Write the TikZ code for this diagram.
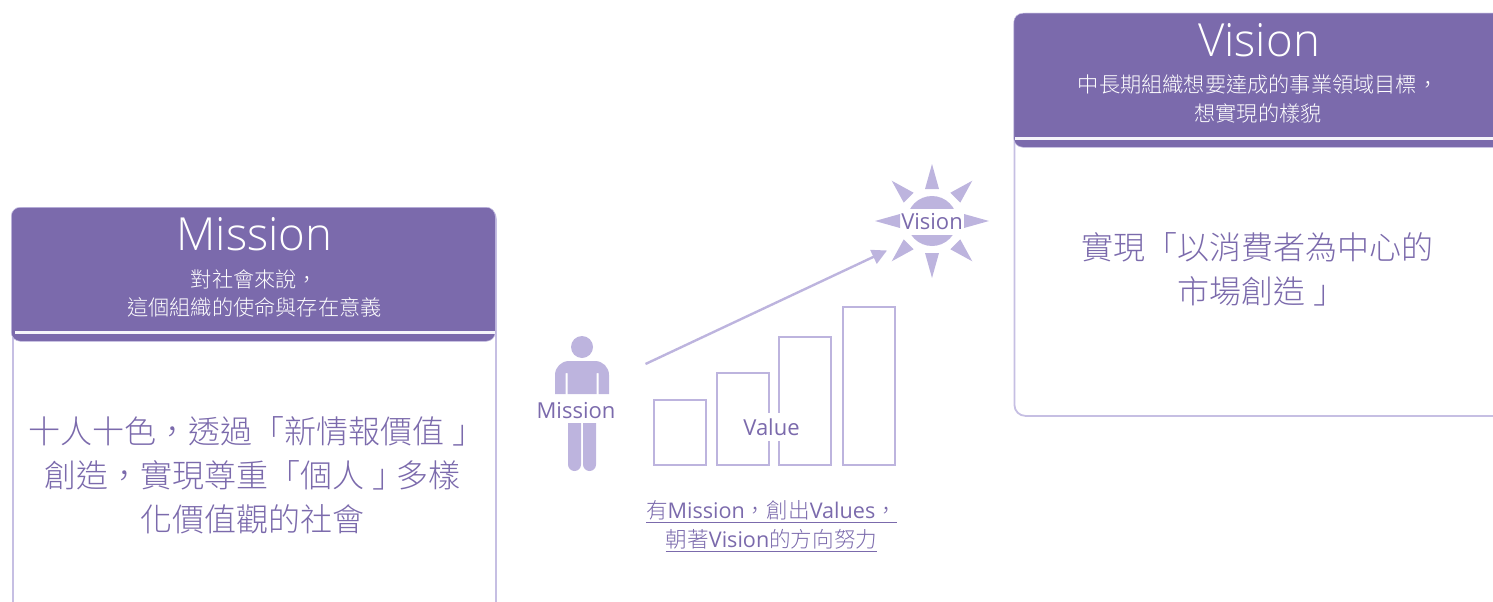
\documentclass[tikz,border=0pt]{standalone}
\usepackage{fontspec}
\usetikzlibrary{arrows.meta}
\newfontfamily\cjkf[Language=Chinese Traditional,Script=CJK]{Noto Sans CJK TC Light}
\newfontfamily\latf{Open Sans Light}
\newfontfamily\tagf{Open Sans}
\newcommand{\la}[1]{{\tagf #1}}
\newcommand{\rbk}{\kern.25em」\kern-.25em}
\definecolor{hdr}{HTML}{7B6AAC}
\definecolor{lite}{HTML}{BDB4DE}
\definecolor{edge}{HTML}{C6BFE3}
\tikzset{
  panel/.style={draw=edge,line width=1.8pt,fill=white,rounded corners=11pt,anchor=north west,inner sep=0pt},
  header/.style={fill=hdr,draw=edge,line width=.5pt,rounded corners=9pt,anchor=north west,inner sep=0pt},
  rule/.style={draw=white!85!lite,line width=2.2pt},
  title/.style={text=white,font=\latf\fontsize{45.6}{50}\selectfont,inner sep=0pt},
  sub/.style={text=white,align=center,inner sep=0pt,font=\cjkf\fontsize{21.2}{28.8}\selectfont},
  body/.style={text=hdr,align=center,inner sep=0pt,font=\cjkf\fontsize{32}{44}\selectfont},
  tag/.style={text=hdr,fill=white,inner sep=0pt,font=\tagf\fontsize{22}{25}\selectfont},
  figure/.style={fill=lite,draw=none},
  bar/.style={draw=lite,line width=2pt,fill=white,anchor=south west,inner sep=0pt},
  ray/.style={fill=lite,draw=none}
}
\begin{document}
\begin{tikzpicture}[x=1pt,y=-1pt]
\useasboundingbox (0,0) rectangle (1493,602);
\clip (0,0) rectangle (1493,602);
% Mission panel
\node[panel,minimum width=483pt,minimum height=460pt] (mbody) at (12,207) {};
\node[header,minimum width=484pt,minimum height=134pt] (mhead) at (11,207) {};
\coordinate (mr1) at (15,332.5);
\coordinate (mr2) at (495,332.5);
\draw[rule] (mr1) -- (mr2);
\node[title] (mtitle) at (254.5,234) {Mission};
\node[sub] (msub) at (254.5,293.5) {對社會來說，\\這個組織的使命與存在意義};
\node[body] (mtext) at (252,475) {十人十色，透過「新情報價值\rbk\\創造，實現尊重「個人\rbk 多樣\\化價值觀的社會};
% Vision panel
\node[panel,minimum width=490pt,minimum height=402pt] (vbody) at (1013.5,13) {};
\node[header,minimum width=490pt,minimum height=134pt] (vhead) at (1013.5,13) {};
\coordinate (vr1) at (1015,138.5);
\coordinate (vr2) at (1493,138.5);
\draw[rule] (vr1) -- (vr2);
\node[title] (vtitle) at (1259,40) {Vision};
\node[sub] (vsub) at (1258,99) {中長期組織想要達成的事業領域目標，\\想實現的樣貌};
\node[body] (vtext) at (1257,269) {實現「以消費者為中心的\\市場創造\rbk};
% person
\fill[figure] (582,347) circle (11);
\fill[figure] (555,394) -- (555,375) arc[start angle=180,end angle=270,radius=14] -- (595,361) arc[start angle=-90,end angle=0,radius=14] -- (609,394) -- (598.5,394) -- (598.5,373) -- (596.5,373) -- (596.5,394) -- (567.5,394) -- (567.5,373) -- (565.5,373) -- (565.5,394) -- cycle;
\fill[figure] (568,423) -- (581,423) -- (581,464.5) arc[start angle=0,end angle=180,radius=6.5] -- cycle;
\fill[figure] (583,423) -- (596,423) -- (596,464.5) arc[start angle=0,end angle=180,radius=6.5] -- cycle;
\node[tag] (mission) at (576,410.5) {Mission};
% bars
\node[bar,minimum width=52pt,minimum height=65pt] (b1) at (653,465.5) {};
\node[bar,minimum width=52pt,minimum height=92pt] (b2) at (715.5,465.5) {};
\node[bar,minimum width=52pt,minimum height=128pt] (b3) at (778,465.5) {};
\node[bar,minimum width=52pt,minimum height=158pt] (b4) at (842,465.5) {};
\node[tag,minimum height=28pt] (value) at (771.5,427) {Value};
% sun
\coordinate (sun) at (932,221);
\fill[figure] (sun) circle (25);
\foreach \a in {0,90,180,270}{
  \fill[ray,shift={(sun)},rotate=\a] (0,-57) -- (7,-32) -- (-7,-32) -- cycle;
}
\foreach \a in {45,135,225,315}{
  \fill[ray,shift={(sun)},rotate=\a] (0,-57) -- (7,-33) -- (-7,-33) -- cycle;
}
\node[tag,minimum height=26pt] (vision) at (932,222) {Vision};
% arrow
\coordinate (astart) at (645.5,364);
\coordinate (aend) at (887,250.5);
\draw[draw=lite,line width=2.4pt,-{Triangle[length=15pt,width=15pt]}] (astart) -- (aend);
% caption
\node[text=hdr,align=center,inner sep=0pt,font=\cjkf\fontsize{21.6}{29}\selectfont] (caption) at (771.5,526)
 {\underline{有\la{Mission}，創出\la{Values}，}\\\underline{朝著\la{Vision}的方向努力}};
\end{tikzpicture}
\end{document}
